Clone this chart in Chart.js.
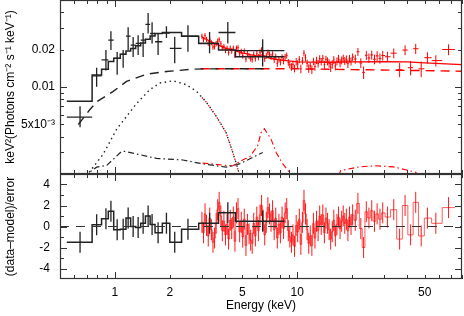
<!DOCTYPE html>
<html>
<head>
<meta charset="utf-8">
<script src="https://cdn.jsdelivr.net/npm/chart.js@4.4.0/dist/chart.umd.min.js"></script>
<style>
  html, body { margin: 0; padding: 0; background: #fff; }
  #wrap { position: relative; width: 464px; height: 316px; }
  canvas { position: absolute; left: 0; }
  #topChart { top: 0; }
  #resChart { top: 174px; }
</style>
</head>
<body>
<div id="wrap">
  <canvas id="topChart" width="464" height="175"></canvas>
  <canvas id="resChart" width="464" height="142"></canvas>
</div>
<script>
// black instrument (soft band): bin edges, centres, data, error range, model, residuals
const blackEdges = [0.545, 0.75, 0.845, 0.92, 0.985, 1.07, 1.15, 1.22, 1.30, 1.385, 1.47, 1.56, 1.66, 1.82, 2.00, 2.32, 2.88, 3.70, 4.58, 8.50];
const blackE = [0.644, 0.794, 0.893, 0.951, 1.029, 1.110, 1.182, 1.259, 1.341, 1.428, 1.521, 1.599, 1.725, 1.917, 2.128, 2.515, 3.304, 4.16, 6.46];
const blackY = [0.00573, 0.0123, 0.0165, 0.0238, 0.0170, 0.0183, 0.0256, 0.0217, 0.0224, 0.0238, 0.0319, 0.0269, 0.0231, 0.0271, 0.0204, 0.0256, 0.0224, 0.0274, 0.0196];
const blackLo = [0.00474, 0.01006, 0.01356, 0.01982, 0.01253, 0.01425, 0.0198, 0.0174, 0.0181, 0.0174, 0.0269, 0.0224, 0.0181, 0.0247, 0.0155, 0.0192, 0.0187, 0.0224, 0.0146];
const blackHi = [0.00701, 0.01425, 0.01982, 0.02807, 0.0191, 0.01982, 0.0302, 0.0252, 0.0261, 0.0271, 0.0393, 0.0331, 0.0271, 0.0308, 0.0253, 0.0313, 0.0277, 0.0333, 0.0242];
const blackModel = [0.00768, 0.0125, 0.0139, 0.0160, 0.0170, 0.0183, 0.0195, 0.0204, 0.0214, 0.0226, 0.0242, 0.0257, 0.0269, 0.0274, 0.0274, 0.0256, 0.0224, 0.0198, 0.0175];
const blackRes = [-1.5, 0.17, 0.75, 1.45, -0.3, -0.25, 0.8, 0.0, -0.1, 0.3, 1.0, 0.2, -0.6, 0.3, -1.5, -0.25, 0.3, 1.3, 0.5];

// red instrument (hard band): bin centres, data, 1-sigma error, residuals
const redE = [
  3.00, 3.06, 3.12, 3.18, 3.25, 3.31, 3.38, 3.45, 3.52, 3.59,
  3.66, 3.73, 3.81, 3.88, 3.96, 4.04, 4.12, 4.20, 4.29, 4.37,
  4.46, 4.55, 4.64, 4.73, 4.83, 4.93, 5.02, 5.12, 5.23, 5.33,
  5.44, 5.55, 5.66, 5.77, 5.89, 6.00, 6.12, 6.25, 6.37, 6.50,
  6.63, 6.76, 6.90, 7.04, 7.18, 7.32, 7.47, 7.62, 7.77, 7.93,
  8.08, 8.25, 8.41, 8.58, 8.75, 8.93, 9.10, 9.29, 9.47, 9.66,
  9.86, 10.05, 10.26, 10.46, 10.67, 10.88, 11.10, 11.32, 11.55, 11.78,
  12.02, 12.26, 12.50, 12.75, 13.01, 13.27, 13.53, 13.80, 14.08, 14.36,
  14.65, 14.94, 15.24, 15.55, 15.86, 16.17, 16.50, 16.83, 17.16, 17.51,
  17.86, 18.21, 18.58, 18.95, 19.33, 19.71, 20.11,
  20.8, 21.5, 22.3, 23.1, 23.9, 24.7, 25.6, 26.5, 27.4, 28.4, 29.4,
  31.2, 33.8, 36.4, 39.0, 41.8, 44.6, 47.8, 51.7, 57.5, 67.5
];
const redY = [
  0.0256, 0.0240, 0.0259, 0.0241, 0.0225, 0.0242, 0.0227, 0.0210, 0.0211, 0.0223,
  0.0234, 0.0240, 0.0223, 0.0206, 0.0212, 0.0197, 0.0205, 0.0189, 0.0205, 0.0195,
  0.0205, 0.0181, 0.0205, 0.0207, 0.0185, 0.0193, 0.0179, 0.0194, 0.0168, 0.0186,
  0.0177, 0.0170, 0.0167, 0.0182, 0.0170, 0.0185, 0.0174, 0.0190, 0.0199, 0.0184,
  0.0169, 0.0178, 0.0190, 0.0183, 0.0175, 0.0184, 0.0166, 0.0175, 0.0155, 0.0167,
  0.0159, 0.0173, 0.0162, 0.0175, 0.0179, 0.0158, 0.0151, 0.0145, 0.0152, 0.0141,
  0.0160, 0.0153, 0.0166, 0.0140, 0.0163, 0.0187, 0.0172, 0.0155, 0.0141, 0.0148,
  0.0138, 0.0161, 0.0146, 0.0164, 0.0154, 0.0169, 0.0160, 0.0170, 0.0151, 0.0167,
  0.0161, 0.0155, 0.0144, 0.0152, 0.0165, 0.0148, 0.0161, 0.0169, 0.0156, 0.0164,
  0.0170, 0.0162, 0.0167, 0.0154, 0.0169, 0.0161, 0.0174,
  0.0168, 0.0192, 0.0156, 0.0131, 0.0180, 0.0171, 0.0181, 0.0167, 0.0178, 0.0170, 0.0179,
  0.0175, 0.0187, 0.0138, 0.0198, 0.0143, 0.0203, 0.0140, 0.0172, 0.0163, 0.0200
];
const redErr = [
  0.0012, 0.0012, 0.0012, 0.0012, 0.0011, 0.0011, 0.0011, 0.0011, 0.0011, 0.0011,
  0.0011, 0.0011, 0.0011, 0.0010, 0.0010, 0.0010, 0.0010, 0.0010, 0.0010, 0.0010,
  0.0010, 0.0010, 0.0010, 0.0010, 0.0010, 0.0010, 0.0010, 0.0010, 0.0010, 0.0010,
  0.0010, 0.0010, 0.0010, 0.0010, 0.0010, 0.0010, 0.0010, 0.0010, 0.0010, 0.0010,
  0.0010, 0.0010, 0.0010, 0.0010, 0.0010, 0.0010, 0.0010, 0.0010, 0.0010, 0.0010,
  0.0010, 0.0010, 0.0010, 0.0010, 0.0010, 0.0010, 0.0010, 0.0010, 0.0010, 0.0010,
  0.0011, 0.0011, 0.0011, 0.0011, 0.0011, 0.0011, 0.0011, 0.0011, 0.0011, 0.0011,
  0.0011, 0.0011, 0.0011, 0.0011, 0.0011, 0.0011, 0.0011, 0.0011, 0.0011, 0.0011,
  0.0012, 0.0012, 0.0012, 0.0012, 0.0012, 0.0012, 0.0012, 0.0012, 0.0012, 0.0012,
  0.0012, 0.0012, 0.0012, 0.0012, 0.0012, 0.0012, 0.0012,
  0.0014, 0.0014, 0.0014, 0.0015, 0.0015, 0.0015, 0.0015, 0.0015, 0.0016, 0.0016, 0.0016,
  0.0017, 0.0017, 0.0018, 0.0018, 0.0019, 0.0019, 0.0020, 0.0018, 0.0017, 0.0020
];
const redRes = [
  0.4, -0.6, 1.2, 0.1, -0.9, 0.8, -0.3, -1.5, -1.1, 0.3,
  1.6, 2.3, 1.0, -0.4, 0.5, -0.8, 0.2, -1.2, 0.6, -0.2,
  0.9, -1.4, 1.3, 1.7, -0.5, 0.4, -1.0, 0.7, -1.8, 0.2,
  -0.7, -1.3, -1.6, 0.3, -0.9, 0.9, -0.4, 1.1, 2.0, 0.6,
  -0.8, 0.4, 1.8, 1.2, 0.5, 1.5, -0.3, 0.8, -1.1, 0.2,
  -0.6, 0.9, -0.2, 1.3, 1.7, -0.4, -1.0, -1.5, -0.8, -1.9,
  0.1, -0.5, 0.7, -1.7, 0.4, 2.5, 1.2, -0.3, -1.6, -0.9,
  -1.8, 0.3, -1.1, 0.5, -0.4, 1.0, 0.2, 1.1, -0.6, 0.8,
  0.3, -0.3, -1.2, -0.5, 0.6, -0.9, 0.2, 0.9, -0.2, 0.5,
  1.0, 0.3, 0.7, -0.4, 0.9, 0.2, 1.1,
  0.6, 2.2, -0.2, -2.0, 1.4, 0.8, 1.5, 0.5, 1.2, 0.7, 1.3,
  0.9, 1.6, -1.2, 2.0, -0.8, 2.3, -0.9, 0.8, 0.3, 1.8
];

// red total model (smooth)
const redModelE = [3.0, 3.5, 4.0, 5.0, 6.0, 6.4, 7.0, 8.0, 10, 15, 20, 30, 40, 50, 80];
const redModelY = [0.0251, 0.0225, 0.0206, 0.0188, 0.0177, 0.0181, 0.0171, 0.0165, 0.0159, 0.0158, 0.0159, 0.0160, 0.0159, 0.0156, 0.0151];

// model components
const blackDashE = [0.63, 0.73, 0.797, 0.975, 1.159, 1.491, 1.917, 2.676, 3.17, 4.5, 6.6];
const blackDashY = [0.0050, 0.0066, 0.00764, 0.00918, 0.01108, 0.01269, 0.01331, 0.01391, 0.01399, 0.0140, 0.0140];
const redDashE = [2.95, 5, 10, 20, 40, 80];
const redDashY = [0.0140, 0.0140, 0.0140, 0.0138, 0.0136, 0.0134];
const blackDotE = [0.70, 0.724, 0.863, 1.021, 1.314, 1.553, 1.762, 2.084, 2.464, 2.80, 3.17, 3.59, 4.07, 4.43, 4.72, 4.95];
const blackDotY = [0.0019, 0.00207, 0.00289, 0.00457, 0.00736, 0.00952, 0.01076, 0.01123, 0.01043, 0.00923, 0.00757, 0.00583, 0.00430, 0.00298, 0.00220, 0.0017];
const redDotE = [3.0, 3.17, 3.59, 4.07, 4.43, 4.72, 4.95];
const redDotY = [0.00823, 0.00757, 0.00583, 0.00430, 0.00298, 0.00220, 0.0017];
const blackDashDotE = [0.70, 0.73, 0.794, 0.901, 1.088, 1.134, 1.690, 2.36, 3.04, 4.07, 4.82, 5.47, 6.46];
const blackDashDotY = [0.0018, 0.00208, 0.00227, 0.00234, 0.00304, 0.00304, 0.00267, 0.00259, 0.00241, 0.00227, 0.00241, 0.00264, 0.00298];
const redDashDotE = [3.02, 4.41, 5.13, 5.47, 6.06, 6.33, 6.60, 7.18, 7.66, 8.33, 9.03, 9.5, 16.5, 17.3, 21.8, 26.9, 33.8, 44.5, 47];
const redDashDotY = [0.00245, 0.00232, 0.00264, 0.00273, 0.00337, 0.00430, 0.00463, 0.00381, 0.00298, 0.00241, 0.00207, 0.0018, 0.0018, 0.00213, 0.00228, 0.00233, 0.00228, 0.00207, 0.0019];

const xLabels = [1, 2, 5, 10, 50];
const topLabels = [0.005, 0.01, 0.02];
const resLabels = [-4, -2, 0, 2, 4];

Chart.defaults.font.family = "'Liberation Sans', Arial, sans-serif";
Chart.defaults.color = '#000';
Chart.defaults.elements.point.radius = 0;
Chart.defaults.elements.line.tension = 0;

const BLACK = '#222';
const RED = '#ff0000';

// red bin edges from neighbouring centres
const redEdges = [];
for (let i = 0; i <= redE.length; i++) {
  if (i === 0) redEdges.push(redE[0] * Math.sqrt(redE[0] / redE[1]));
  else if (i === redE.length) redEdges.push(redE[i - 1] * Math.sqrt(redE[i - 1] / redE[i - 2]));
  else redEdges.push(Math.sqrt(redE[i - 1] * redE[i]));
}

function seg(out, x1, y1, x2, y2) {
  out.push({x: x1, y: y1}, {x: x2, y: y2}, {x: x2, y: null});
}
function pts(xs, ys) {
  return xs.map((x, i) => ({x: x, y: ys[i]}));
}
function steps(edges, vals) {
  return edges.map((e, i) => ({x: e, y: vals[Math.min(i, vals.length - 1)]}));
}
function line(data, color, width, dash, extra) {
  return Object.assign({data: data, borderColor: color, borderWidth: width, borderDash: dash || [], fill: false}, extra || {});
}
// fixed axis box sizes, no extra label padding
function fixBox(size, horizontal) {
  return s => {
    if (horizontal) s.height = size; else s.width = size;
    s.paddingTop = 0; s.paddingBottom = 0; s.paddingLeft = 0; s.paddingRight = 0;
  };
}

// error crosses
const blackCross = [], redCross = [], blackResBars = [], redResBars = [];
blackE.forEach((e, i) => {
  seg(blackCross, e, blackLo[i], e, blackHi[i]);
  seg(blackCross, blackEdges[i], blackY[i], blackEdges[i + 1], blackY[i]);
  seg(blackResBars, e, blackRes[i] - 1, e, blackRes[i] + 1);
});
redE.forEach((e, i) => {
  seg(redCross, e, redY[i] - redErr[i], e, redY[i] + redErr[i]);
  seg(redCross, redEdges[i], redY[i], redEdges[i + 1], redY[i]);
  seg(redResBars, e, redRes[i] - 1, e, redRes[i] + 1);
});

// inward tick marks on all four sides + frame
const xTickList = [];
[0.1, 1, 10].forEach(d => {
  for (let k = 1; k <= 9; k++) {
    const v = k * d;
    if (v >= 0.499 && v <= 80.01) xTickList.push([v, k === 1]);
  }
});
const topTickList = [];
[0.001, 0.01].forEach(d => {
  for (let k = 1; k <= 9; k++) {
    const v = k * d;
    if (v >= 0.00199 && v <= 0.0501) topTickList.push([v, k === 1]);
  }
});
const resTickList = [];
for (let v = -4; v <= 4; v++) resTickList.push([v, v % 2 === 0]);

function framePlugin(yTicks) {
  return {
    id: 'frame',
    afterDraw(chart) {
      const {ctx, chartArea: a} = chart;
      const xs = chart.scales.x, ys = chart.scales.y;
      ctx.save();
      ctx.strokeStyle = '#333';
      ctx.lineWidth = 1;
      ctx.beginPath();
      xTickList.forEach(([v, big]) => {
        const p = Math.round(xs.getPixelForValue(v)) + 0.5;
        const l = big ? 7 : 4;
        ctx.moveTo(p, a.top); ctx.lineTo(p, a.top + l);
        ctx.moveTo(p, a.bottom); ctx.lineTo(p, a.bottom - l);
      });
      yTicks.forEach(([v, big]) => {
        const p = Math.round(ys.getPixelForValue(v)) + 0.5;
        const l = big ? 7 : 4;
        ctx.moveTo(a.left, p); ctx.lineTo(a.left + l, p);
        ctx.moveTo(a.right, p); ctx.lineTo(a.right - l, p);
      });
      ctx.stroke();
      ctx.lineWidth = 1.2;
      ctx.strokeRect(a.left + 0.5, a.top + 0.5, a.right - a.left - 1, a.bottom - a.top - 1);
      ctx.restore();
    }
  };
}

const xScaleBase = {
  type: 'logarithmic', min: 0.5, max: 80,
  grid: {display: false, drawTicks: false},
  border: {display: false}
};

new Chart(document.getElementById('topChart'), {
  type: 'line',
  data: {
    datasets: [
      line(blackCross, BLACK, 1.3),
      line(steps(blackEdges, blackModel), BLACK, 1.5, [], {stepped: true}),
      line(redCross, RED, 1),
      line(pts(redModelE, redModelY), RED, 1.3),
      line(pts(blackDashE, blackDashY), BLACK, 1.4, [9, 6]),
      line(pts(redDashE, redDashY), RED, 1.4, [9, 6]),
      line(pts(blackDotE, blackDotY), BLACK, 1.4, [1.5, 3.5]),
      line(pts(redDotE, redDotY), RED, 1.2, [1.5, 3.5]),
      line(pts(blackDashDotE, blackDashDotY), BLACK, 1.2, [6, 3, 1.5, 3]),
      line(pts(redDashDotE, redDashDotY), RED, 1.1, [6, 3, 1.5, 3])
    ]
  },
  options: {
    responsive: false,
    animation: false,
    layout: {padding: {left: 0, right: 2, top: 0, bottom: 1}},
    plugins: {legend: {display: false}, tooltip: {enabled: false}},
    scales: {
      x: Object.assign({}, xScaleBase, {display: false}),
      y: {
        type: 'logarithmic', min: 0.002, max: 0.05,
        grid: {display: false, drawTicks: false},
        border: {display: false},
        afterFit: fixBox(60, false),
        afterBuildTicks: s => { s.ticks = topLabels.map(v => ({value: v})); },
        ticks: {
          font: {size: 12}, padding: 5,
          callback: v => (Math.abs(v - 0.005) < 1e-9 ? '5x10\u207B\u00B3' : String(+v.toPrecision(2)))
        },
        title: {
          display: true,
          text: 'keV\u00B2(Photons cm\u207B\u00B2 s\u207B\u00B9 keV\u207B\u00B9)',
          font: {size: 12}, padding: {top: 3, bottom: 0}
        }
      }
    }
  },
  plugins: [framePlugin(topTickList)]
});

new Chart(document.getElementById('resChart'), {
  type: 'line',
  data: {
    datasets: [
      line([{x: 0.5, y: 0}, {x: 80, y: 0}], '#333', 1.2, [9, 7]),
      line(blackResBars, BLACK, 1.3),
      line(steps(blackEdges, blackRes), BLACK, 1.5, [], {stepped: true}),
      line(redResBars, 'rgba(255,0,0,0.9)', 1),
      line(steps(redEdges, redRes), 'rgba(255,40,40,0.75)', 1, [], {stepped: true})
    ]
  },
  options: {
    responsive: false,
    animation: false,
    layout: {padding: {left: 0, right: 2, top: 0, bottom: 0}},
    plugins: {legend: {display: false}, tooltip: {enabled: false}},
    scales: {
      x: Object.assign({}, xScaleBase, {
        afterFit: fixBox(37, true),
        afterBuildTicks: s => { s.ticks = xLabels.map(v => ({value: v})); },
        ticks: {font: {size: 12}, padding: 6, autoSkip: false, maxRotation: 0, callback: v => String(v)},
        title: {display: true, text: 'Energy (keV)', font: {size: 12}, padding: {top: 0, bottom: 3}}
      }),
      y: {
        type: 'linear', min: -5, max: 5,
        grid: {display: false, drawTicks: false},
        border: {display: false},
        afterFit: fixBox(60, false),
        afterBuildTicks: s => { s.ticks = resLabels.map(v => ({value: v})); },
        ticks: {font: {size: 12}, padding: 10, callback: v => (v < 0 ? '-' + (-v) : String(v))},
        title: {display: true, text: '(data\u2013model)/error', font: {size: 12}, padding: {top: 3, bottom: 0}}
      }
    }
  },
  plugins: [framePlugin(resTickList)]
});
</script>
</body>
</html>
